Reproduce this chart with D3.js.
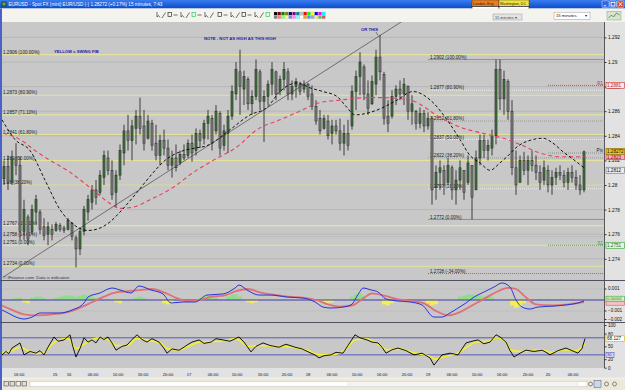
<!DOCTYPE html>
<html><head><meta charset="utf-8">
<script src="https://cdn.jsdelivr.net/npm/d3@7"></script>
<style>
html,body{margin:0;padding:0;background:#ece9d8;overflow:hidden}
svg{display:block;font-family:"Liberation Sans",Arial,sans-serif}
</style></head><body>
<svg id="c" width="625" height="390"></svg>
<script>
// ---------------- DATA ----------------
const open=[1.2805,1.2815,1.2802,1.2822,1.2816,1.2762,1.2774,1.2762,1.2778,1.2778,
1.2766,1.2760,1.2764,1.2763,1.2767,1.2765,1.2764,1.2769,1.2757,1.2748,
1.2762,1.2778,1.2786,1.2796,1.2794,1.2806,1.2822,1.2812,1.2794,1.2808,
1.2826,1.2844,1.2836,1.2846,1.2856,1.2848,1.2838,1.2850,1.2834,1.2824,
1.2836,1.2830,1.2816,1.2822,1.2818,1.2825,1.2824,1.2834,1.2828,1.2842,
1.2838,1.2850,1.2854,1.2844,1.2858,1.2832,1.2842,1.2856,1.2874,1.2892,
1.2878,1.2886,1.2866,1.2872,1.2892,1.2868,1.2872,1.2882,1.2892,1.2876,
1.2886,1.2892,1.2874,1.2880,1.2882,1.2878,1.2882,1.2874,1.2864,1.2854,
1.2846,1.2852,1.2842,1.2848,1.2844,1.2834,1.2842,1.2848,1.2876,1.2888,
1.2896,1.2874,1.2866,1.2882,1.2904,1.2890,1.2856,1.2856,1.2872,1.2878,
1.2874,1.2880,1.2860,1.2860,1.2850,1.2858,1.2848,1.2854,1.2798,1.2810,
1.2812,1.2802,1.2814,1.2796,1.2804,1.2812,1.2802,1.2816,1.2796,1.2822,
1.2836,1.2828,1.2830,1.2840,1.2894,1.2870,1.2884,1.2860,1.2814,1.2802,
1.2820,1.2812,1.2820,1.2816,1.2810,1.2804,1.2812,1.2800,1.2806,1.2810,
1.2808,1.2802,1.2810,1.2806,1.2800,1.2796];
const high=[1.2820,1.2824,1.2828,1.2834,1.2823,1.2788,1.2776,1.2784,1.2792,1.2780,
1.2773,1.2770,1.2768,1.2770,1.2769,1.2767,1.2773,1.2770,1.2759,1.2765,
1.2783,1.2792,1.2800,1.2804,1.2812,1.2828,1.2828,1.2820,1.2812,1.2833,
1.2849,1.2857,1.2853,1.2861,1.2871,1.2861,1.2857,1.2853,1.2849,1.2841,
1.2845,1.2837,1.2828,1.2833,1.2828,1.2833,1.2837,1.2841,1.2846,1.2845,
1.2853,1.2861,1.2857,1.2865,1.2860,1.2849,1.2861,1.2881,1.2900,1.2910,
1.2893,1.2888,1.2877,1.2902,1.2894,1.2877,1.2885,1.2900,1.2893,1.2889,
1.2900,1.2895,1.2885,1.2887,1.2884,1.2885,1.2883,1.2881,1.2869,1.2861,
1.2857,1.2857,1.2853,1.2853,1.2854,1.2849,1.2853,1.2881,1.2893,1.2908,
1.2898,1.2885,1.2889,1.2910,1.2922,1.2892,1.2869,1.2877,1.2881,1.2885,
1.2887,1.2881,1.2873,1.2861,1.2863,1.2861,1.2859,1.2856,1.2816,1.2820,
1.2816,1.2822,1.2816,1.2812,1.2820,1.2812,1.2824,1.2816,1.2828,1.2841,
1.2841,1.2837,1.2845,1.2902,1.2902,1.2893,1.2886,1.2869,1.2828,1.2824,
1.2827,1.2824,1.2828,1.2824,1.2816,1.2820,1.2816,1.2812,1.2814,1.2816,
1.2812,1.2814,1.2816,1.2812,1.2808,1.2828];
const low=[1.2800,1.2796,1.2800,1.2808,1.2755,1.2755,1.2751,1.2760,1.2768,1.2760,
1.2755,1.2751,1.2755,1.2762,1.2762,1.2761,1.2763,1.2755,1.2733,1.2743,
1.2759,1.2771,1.2780,1.2784,1.2792,1.2800,1.2808,1.2788,1.2782,1.2804,
1.2816,1.2828,1.2820,1.2833,1.2841,1.2828,1.2837,1.2828,1.2820,1.2816,
1.2824,1.2812,1.2806,1.2811,1.2816,1.2820,1.2822,1.2819,1.2824,1.2830,
1.2833,1.2837,1.2828,1.2841,1.2824,1.2828,1.2826,1.2853,1.2869,1.2857,
1.2865,1.2861,1.2857,1.2869,1.2861,1.2835,1.2865,1.2873,1.2869,1.2873,
1.2877,1.2869,1.2869,1.2871,1.2873,1.2875,1.2869,1.2861,1.2849,1.2841,
1.2845,1.2837,1.2833,1.2841,1.2828,1.2824,1.2828,1.2845,1.2861,1.2873,
1.2869,1.2857,1.2865,1.2873,1.2885,1.2849,1.2843,1.2854,1.2865,1.2869,
1.2865,1.2853,1.2849,1.2845,1.2846,1.2843,1.2845,1.2784,1.2788,1.2796,
1.2792,1.2800,1.2788,1.2784,1.2796,1.2788,1.2800,1.2772,1.2796,1.2816,
1.2822,1.2820,1.2824,1.2833,1.2861,1.2857,1.2853,1.2808,1.2792,1.2802,
1.2808,1.2800,1.2811,1.2804,1.2796,1.2800,1.2794,1.2792,1.2800,1.2804,
1.2798,1.2796,1.2802,1.2796,1.2792,1.2794];
const close=[1.2815,1.2802,1.2822,1.2816,1.2762,1.2780,1.2756,1.2780,1.2788,1.2764,
1.2759,1.2766,1.2760,1.2768,1.2764,1.2763,1.2771,1.2758,1.2748,1.2762,
1.2780,1.2788,1.2796,1.2790,1.2808,1.2824,1.2812,1.2792,1.2808,1.2828,
1.2844,1.2836,1.2848,1.2856,1.2846,1.2834,1.2852,1.2832,1.2824,1.2836,
1.2830,1.2816,1.2822,1.2814,1.2825,1.2822,1.2834,1.2826,1.2842,1.2836,
1.2850,1.2856,1.2834,1.2860,1.2830,1.2844,1.2856,1.2876,1.2894,1.2880,
1.2888,1.2866,1.2872,1.2894,1.2868,1.2872,1.2882,1.2894,1.2874,1.2886,
1.2894,1.2874,1.2880,1.2884,1.2876,1.2882,1.2872,1.2864,1.2852,1.2844,
1.2854,1.2840,1.2848,1.2844,1.2834,1.2842,1.2832,1.2876,1.2888,1.2900,
1.2874,1.2862,1.2884,1.2904,1.2892,1.2854,1.2850,1.2872,1.2878,1.2874,
1.2882,1.2860,1.2866,1.2850,1.2858,1.2848,1.2854,1.2796,1.2810,1.2814,
1.2800,1.2816,1.2796,1.2804,1.2814,1.2794,1.2818,1.2790,1.2822,1.2836,
1.2828,1.2832,1.2840,1.2894,1.2870,1.2886,1.2860,1.2814,1.2800,1.2820,
1.2812,1.2820,1.2816,1.2810,1.2802,1.2814,1.2800,1.2806,1.2810,1.2808,
1.2802,1.2810,1.2806,1.2800,1.2796,1.2827];

// moving averages [bar index, price]
const blackMA=[[-0.5,1.2853],[2.75,1.2837],[6.5,1.2828],[10.25,1.2804],[14,1.2780],[17.75,1.2767],[21,1.2763],[24,1.2765],[26.5,1.2770],[29,1.2778],[32.75,1.2792],[36.5,1.2807],[40.25,1.2820],[44,1.2827],[47.75,1.2830],[50.75,1.2832],[56.5,1.2845],[61.5,1.2857],[65.75,1.2863],[69,1.2876],[73.25,1.2883],[76.5,1.2879],[79.75,1.2876],[83.25,1.2872],[85.75,1.2863],[87.75,1.2857],[91.5,1.2859],[94.75,1.2863],[98.25,1.2869],[102.25,1.2876],[107.25,1.2867],[110.75,1.2853],[114,1.2837],[116.5,1.2824],[119,1.2818],[121.5,1.2812],[124,1.2818],[125.75,1.2823],[128.25,1.2831],[132.25,1.2837],[134.75,1.2838],[137.25,1.2834],[139.75,1.2827],[142.25,1.2821],[145,1.2814]];
const redMA=[[-0.25,1.2842],[4,1.2837],[7.75,1.2828],[11.5,1.2820],[15.75,1.2812],[22.25,1.2796],[26.5,1.2785],[29,1.2781],[32.25,1.2782],[36.5,1.2788],[42.25,1.2798],[47.25,1.2810],[52.25,1.2820],[58.25,1.2831],[63.25,1.2845],[69,1.2853],[73.25,1.2859],[79,1.2867],[84,1.2869],[90.75,1.2871],[94.75,1.2871],[101.5,1.2869],[109,1.2855],[114,1.2847],[119.75,1.2842],[125.75,1.2837],[129,1.2833],[134,1.2826],[139,1.2823],[145.5,1.2823]];
const trendLine=[[-0.25,1.2725],[99.5,1.2933]];

const priceTicks=[1.274,1.276,1.278,1.28,1.282,1.284,1.286,1.288,1.29,1.292];
const swingFibPrice=[1.2906,1.2873,1.2857,1.2841,1.2820,1.2800,1.2767,1.2758,1.2751,1.2734];
const swingFibLabel=["1.2906 (100.00%)","1.2873 (80.90%)","1.2857 (71.10%)","1.2841 (61.80%)","1.282 (50.00%)","1.28 (38.20%)","1.2767 (19.10%)","1.2758 (14.60%)","1.2751 (0.00%)","1.2734 (0.00%)"];
const rightFibPrice=[1.2902,1.2877,1.2852,1.2837,1.2822,1.2797,1.2772,1.2728];
const rightFibLabel=["1.2902 (100.00%)","1.2877 (80.90%)","1.2852 (61.80%)","1.2837 (50.00%)","1.2822 (38.20%)","1.2797 (19.10%)","1.2772 (0.00%)","1.2728 (-34.00%)"];
const rightFibStart=106;
const pivotNames=["R1","Piv","S1"];
const pivotValues=[1.2881,1.2826,1.2751];
const pivotStart=136;
const lastPrice=1.28272, redMALast=1.2823, blackMALast=1.2812;

const timeTickIdx=[3.75,12.75,16.25,22.25,28.5,34.75,41,46.25,52.25,58.25,64.75,70.75,76,82,88.25,94.5,100.75,106,112,118.25,124.5,131,136,142.25];
const timeTickLabel=["16:00","15","16","06:00","10:00","16:00","20:00","17","06:00","10:00","16:00","20:00","18","06:00","10:00","16:00","20:00","19","06:00","10:00","16:00","20:00","20","06:00"];

// MACD panel
const macdBlue=[[-0.5,-0.00091],[1,-0.00118],[3,-0.00155],[5,-0.00173],[7,-0.00155],[9,-0.00118],[12,-0.00118],[14,-0.00118],[17,-0.00091],[20,-0.00027],[21,0.00027],[24,0.00064],[27,0.00109],[29,0.00091],[31.75,0.00064],[33.75,0.00127],[36.75,0.00091],[39.75,0.00055],[41.75,-0.00027],[44.75,-0.00018],[47.75,-0.00018],[50.75,0.00045],[54.75,0.00055],[57.75,0.00109],[58.75,0.00136],[60.75,0.00091],[63.75,0.00045],[66.75,0.00045],[70.75,0.00027],[74.75,0.00018],[77.75,-0.00018],[79.75,-0.00064],[81.75,-0.00073],[84.75,-0.00064],[86.75,-0.00045],[88.75,0.00064],[89.75,0.00109],[91.75,0.00091],[93.5,0.00073],[95.5,0.00009],[98.5,-0.00009],[101.5,-0.00018],[104.5,-0.00045],[107.5,-0.00155],[109.5,-0.00155],[111.5,-0.00118],[113.5,-0.00073],[115.5,-0.00027],[117.5,0.00027],[119.5,0.00064],[122.5,0.00118],[124.5,0.00155],[126.5,0.00118],[128,0],[129.5,-0.00064],[131.5,-0.00082],[133.5,-0.00064],[137.5,-0.00055],[140.5,-0.00045],[143.5,-0.00027],[145,-0.00009]];
const macdRed=[[-0.5,-0.0005],[2,-0.0009],[5,-0.0013],[8,-0.0014],[12,-0.0013],[16,-0.0011],[19,-0.0007],[22,-0.0002],[25,0.0003],[28,0.0007],[31,0.0008],[34,0.0009],[37,0.0010],[40,0.0007],[43,0.0002],[46,-0.0001],[49,0.0000],[52,0.0003],[55,0.0004],[58,0.0008],[61,0.0010],[64,0.0007],[67,0.0005],[71,0.0003],[75,0.0002],[78,0.0000],[81,-0.0004],[84,-0.0006],[87,-0.0005],[90,0.0002],[92,0.0006],[95,0.0004],[98,0.0001],[102,-0.0001],[105,-0.0003],[108,-0.0010],[111,-0.0014],[114,-0.0011],[117,-0.0005],[120,0.0001],[123,0.0007],[126,0.0011],[128,0.0010],[130,0.0004],[133,-0.0004],[137,-0.0005],[141,-0.0004],[145,-0.0002]];
const macdHist=[[2,0.0001],[3,0.0002],[4,0.0002],[5,-0.0002],[6,-0.0003],[7,0.0002],[8,0.0003],[9,0.0003],[10,0.0002],[13,0.0002],[14,0.0003],[15,0.0004],[16,0.0004],[17,0.0004],[18,0.0003],[19,0.0004],[20,0.0005],[21,0.0004],[22,0.0003],[23,0.0002],[28,-0.0002],[29,-0.0003],[33,0.0002],[34,0.0003],[35,0.0002],[40,-0.0003],[41,-0.0004],[42,-0.0003],[49,0.0002],[50,0.0003],[51,0.0004],[52,0.0004],[53,0.0003],[56,0.0003],[57,0.0005],[58,0.0005],[59,0.0003],[61,-0.0002],[62,-0.0003],[63,-0.0002],[79,-0.0002],[80,-0.0003],[81,-0.0003],[82,-0.0002],[87,0.0003],[88,0.0005],[89,0.0006],[90,0.0004],[95,-0.0004],[96,-0.0005],[97,-0.0003],[106,-0.0003],[107,-0.0005],[108,-0.0004],[114,0.0003],[115,0.0004],[116,0.0005],[117,0.0005],[118,0.0004],[119,0.0004],[120,0.0003],[121,0.0004],[122,0.0003],[127,-0.0005],[128,-0.0007],[129,-0.0006],[130,-0.0003],[134,0.0001],[136,0.0001],[139,0.0001],[142,0.0001]];
const macdTicks=[0.001,-0.001,-0.002];

// Stochastic panel
const stochK=[[-0.5,30],[0.5,38],[1.2,33],[2,46],[3,52],[4,58],[5,30],[6.5,38],[8,34],[9,40],[10,30],[11,48],[12.5,72],[13.5,62],[15,65],[16.5,77],[17.2,50],[18,25],[19,45],[20,70],[21,60],[22,65],[23,58],[24,72],[25,66],[26,72],[27,58],[28,41],[29.5,50],[30.75,53],[32,66],[33.25,77],[34.5,66],[35.75,60],[37,68],[38.75,60],[39.8,48],[40.75,34],[42,44],[43.75,41],[45,48],[45.75,53],[47,60],[48.75,65],[50,57],[51.75,60],[53,68],[54.75,65],[56.5,62],[58.75,72],[60,60],[61.75,37],[63,50],[64.75,58],[66.5,52],[68.75,48],[70.5,55],[72.75,48],[74.5,44],[76.75,34],[77.7,30],[78.75,23],[80,28],[81.75,30],[83,36],[84.75,34],[86,52],[87.75,77],[89,70],[90.75,65],[92,60],[93.5,58],[94.5,48],[95.5,34],[97,42],[98.5,46],[100.5,40],[102.5,30],[104.5,34],[106.5,23],[107.5,6],[108.5,18],[109.5,30],[111.5,34],[113.5,30],[114.5,44],[115.5,58],[117,62],[118.5,65],[120,56],[121.5,60],[123,77],[124,72],[125.5,60],[126.5,40],[127.5,25],[129,34],[130.5,41],[132.5,38],[134.5,41],[135.5,36],[136.5,30],[138.5,40],[140.5,46],[142,40],[143.5,34],[144.5,45],[145.25,68.1]];
const stochD=[[-0.5,35],[2,40],[4,48],[6,40],[8,33],[10,35],[12,55],[14,66],[16,68],[18,45],[20,55],[22,66],[24,70],[26,66],[28,52],[31,52],[33,68],[36,64],[39,58],[41,44],[44,42],[46,50],[49,60],[52,61],[55,63],[58,68],[61,50],[64,52],[68,50],[72,48],[76,40],[79,30],[82,30],[85,40],[88,66],[91,67],[93,58],[96,42],[99,44],[102,36],[106,28],[108,20],[110,26],[113,32],[116,50],[118,60],[121,62],[123,70],[125,64],[127,40],[130,38],[134,42],[137,36],[140,42],[143,40],[145.25,56]];
const stochLevels=[70,30];
const stochTicks=[100,80,50,20,0];
const stochLast=68.127;

// ---------------- DRAW ----------------
const svg=d3.select("#c");
const plotL=2, plotR=604, mainT=22, mainB=280, macdT=281, macdB=322, stT=323, stB=368;
const x=d3.scaleLinear().domain([-0.5,150]).range([plotL,plotR]);
const y=d3.scaleLinear().domain([1.274,1.292]).range([258.8,37.4]);
const ym=d3.scaleLinear().domain([0,0.001]).range([300,289]);
const ys=d3.scaleLinear().domain([0,100]).range([367.7,325]);

const defs=svg.append("defs");
const grad=defs.append("linearGradient").attr("id","tb").attr("x1",0).attr("y1",0).attr("x2",0).attr("y2",1);
grad.append("stop").attr("offset",0).attr("stop-color","#3a7cf0");
grad.append("stop").attr("offset",1).attr("stop-color","#0a4cc8");
function clip(id,y0,y1){defs.append("clipPath").attr("id",id).append("rect").attr("x",plotL).attr("y",y0).attr("width",plotR-plotL).attr("height",y1-y0);}
clip("cm",mainT,mainB);clip("cmacd",macdT,macdB);clip("cst",stT,stB);

// window background
svg.append("rect").attr("width",625).attr("height",390).attr("fill","#ece9d8");
// title bar
svg.append("rect").attr("width",625).attr("height",8.5).attr("fill","url(#tb)");
svg.append("rect").attr("x",1.5).attr("y",1.5).attr("width",5).attr("height",5).attr("fill","#3a3a3a");
svg.append("rect").attr("x",2.5).attr("y",2.5).attr("width",3).attr("height",3).attr("fill","#40c040");
svg.append("text").attr("x",8.5).attr("y",6.4).attr("fill","#fff").attr("font-size",4.6)
  .text("EURUSD - Spot FX (mini) EUR/USD (-)    1.28272 (+0.17%)    15 minutes, 7:43");
// city clocks
const clocks=[{x:472,w:27,c:"#ec7d1c",t:"London, Eng",tm:"Fri  02:42:03"},{x:499,w:30,c:"#f2e23a",t:"Washington, DC",tm:"Fri    02:42"}];
clocks.forEach(c=>{
  svg.append("rect").attr("x",c.x).attr("y",0).attr("width",c.w).attr("height",6.6).attr("fill",c.c).attr("stroke","#333").attr("stroke-width",0.4);
  svg.append("text").attr("x",c.x+1).attr("y",5).attr("font-size",3.6).attr("fill","#222").text(c.t);
  svg.append("rect").attr("x",c.x).attr("y",6.6).attr("width",c.w).attr("height",7).attr("fill","#fff").attr("stroke","#222").attr("stroke-width",0.6);
  svg.append("text").attr("x",c.x+1.2).attr("y",12).attr("font-size",3.8).attr("fill","#111").text(c.tm);
});
// window buttons
[[602,"#3468e0"],[609.5,"#3468e0"],[617,"#d8482a"]].forEach(([bx,col],k)=>{
  svg.append("rect").attr("x",bx).attr("y",0.8).attr("width",7).attr("height",6.8).attr("rx",1).attr("fill",col).attr("stroke","#fff").attr("stroke-width",0.4);
  const gg=svg.append("g").attr("stroke","#fff").attr("stroke-width",0.9);
  if(k==0) gg.append("line").attr("x1",bx+1.8).attr("x2",bx+4.2).attr("y1",5.8).attr("y2",5.8);
  if(k==1) gg.append("rect").attr("x",bx+1.6).attr("y",2.4).attr("width",3.8).attr("height",3.6).attr("fill","none");
  if(k==2){gg.append("line").attr("x1",bx+1.8).attr("x2",bx+5.2).attr("y1",2.2).attr("y2",6.2);gg.append("line").attr("x1",bx+5.2).attr("x2",bx+1.8).attr("y1",2.2).attr("y2",6.2);}
});
// toolbar
svg.append("rect").attr("x",0).attr("y",8.5).attr("width",625).attr("height",13.5).attr("fill","#f4f3ee");
const tg=svg.append("g").attr("stroke","#333").attr("stroke-width",0.7).attr("fill","none");
[157,163,169,175,181,187,193,199,205,211,219,225,231,237,243,249,255,261,267].forEach((ix,k)=>{
  if(k%4==0) tg.append("path").attr("d",`M${ix},12 l0,5 l1.5,-1.5 l1.5,2`);
  else if(k%4==1) tg.append("line").attr("x1",ix-1).attr("y1",18).attr("x2",ix+2.5).attr("y2",12.5);
  else if(k%4==2) tg.append("rect").attr("x",ix-1).attr("y",12.5).attr("width",3.5).attr("height",4).attr("stroke",k%3?"#333":"#2c6");
  else tg.append("line").attr("x1",ix-1.5).attr("y1",15).attr("x2",ix+2.5).attr("y2",15);
});
const pal=["#000","#800000","#008000","#808000","#000080","#800080","#008080","#c0c0c0","#ff0000","#00ff00","#ffff00","#0000ff","#ff00ff","#00ffff",
 "#808080","#ff8080","#80ff80","#ffff80","#8080ff","#ff80ff","#80ffff","#fff","#f0a030","#40a0f0","#a0a0f0","#f0f060","#60c060","#c06060"];
pal.forEach((c,k)=>{const r=Math.floor(k/14),cc=k%14;
  svg.append("rect").attr("x",274+cc*3.7).attr("y",12+r*3.6).attr("width",3.2).attr("height",3.1).attr("fill",c).attr("stroke","#999").attr("stroke-width",0.2);});
svg.append("rect").attr("x",493).attr("y",14).attr("width",29).attr("height",6).attr("fill","#e4e4e4").attr("stroke","#888").attr("stroke-width",0.4);
svg.append("text").attr("x",495).attr("y",18.6).attr("font-size",3.8).attr("fill","#444").text("15 minutes ▾");
svg.append("rect").attr("x",554).attr("y",12.2).attr("width",36).attr("height",7).attr("fill","#fff").attr("stroke","#888").attr("stroke-width",0.4);
svg.append("text").attr("x",556).attr("y",17.3).attr("font-size",4.2).attr("fill","#111").text("15 minutes");
svg.append("text").attr("x",584.5).attr("y",17.3).attr("font-size",3.6).attr("fill","#111").text("▾");
svg.append("rect").attr("x",607).attr("y",11.5).attr("width",14).attr("height",8.5).attr("fill","#d8e4d0").attr("stroke","#7a8").attr("stroke-width",0.5);
svg.append("path").attr("d","M608.5,18 l3,-3 l2,2 l3,-4 l3,2").attr("stroke","#2a7a2a").attr("fill","none").attr("stroke-width",0.7);

// panels background
svg.append("rect").attr("x",0).attr("y",mainT).attr("width",625).attr("height",stB-mainT).attr("fill","#e2e2e2");
[[mainT,mainB],[macdT,macdB],[stT,stB]].forEach(([a,b])=>svg.append("rect").attr("x",plotL).attr("y",a).attr("width",plotR-plotL).attr("height",b-a).attr("fill","#c8c8c8"));
svg.append("rect").attr("x",0).attr("y",stB).attr("width",625).attr("height",10).attr("fill","#e2e2e2");
// left window border
svg.append("rect").attr("x",0).attr("y",8.5).attr("width",2).attr("height",381.5).attr("fill","#4a62c8");

// ---- main panel ----
const gm=svg.append("g").attr("clip-path","url(#cm)");
gm.selectAll(".grid").data(priceTicks).join("line").attr("x1",plotL).attr("x2",plotR)
  .attr("y1",d=>y(d)).attr("y2",d=>y(d)).attr("stroke","#b2b2b2").attr("stroke-width",0.8);
// swing fib (yellow)
gm.selectAll(".sf").data(swingFibPrice).join("line").attr("x1",plotL).attr("x2",plotR)
  .attr("y1",d=>y(d)).attr("y2",d=>y(d))
  .attr("stroke",(d,i)=>i==7?"#a8a8a8":"#e4e49c").attr("stroke-width",(d,i)=>i==7?0.7:1.1)
  .attr("stroke-dasharray",(d,i)=>i==7?"1,1":null);
gm.selectAll(".sfl").data(swingFibPrice).join("text").attr("x",3).attr("y",d=>y(d)-0.9)
  .attr("font-size",4.6).attr("fill","#222").text((d,i)=>swingFibLabel[i]);
// right fib
gm.selectAll(".rf").data(rightFibPrice).join("line").attr("x1",x(rightFibStart)).attr("x2",plotR)
  .attr("y1",d=>y(d)).attr("y2",d=>y(d))
  .attr("stroke",(d,i)=>i==7?"#d04040":(i==0||i==6)?"#8a8a8a":(i%2?"#f4f4f4":"#909090"))
  .attr("stroke-width",(d,i)=>(i==0||i==6)?0.9:0.8)
  .attr("stroke-dasharray",(d,i)=>(i==0||i==6)?null:"1,1");
gm.selectAll(".rfl").data(rightFibPrice).join("text").attr("x",x(rightFibStart)+2).attr("y",d=>y(d)-0.8)
  .attr("font-size",4.6).attr("fill","#222").text((d,i)=>rightFibLabel[i]);
// pivots
const pivCol=["#d03030","#808080","#30a030"];
gm.selectAll(".pv").data(pivotValues).join("line").attr("x1",x(pivotStart)).attr("x2",plotR)
  .attr("y1",d=>y(d)).attr("y2",d=>y(d)).attr("stroke",(d,i)=>pivCol[i]).attr("stroke-width",0.8).attr("stroke-dasharray","1,1");
gm.selectAll(".pvl").data(pivotValues).join("text").attr("x",plotR-1).attr("y",d=>y(d)-0.6).attr("text-anchor","end")
  .attr("font-size",4.6).attr("fill",(d,i)=>i==1?"#222":pivCol[i]).text((d,i)=>pivotNames[i]);
// candles
const bars=d3.range(open.length).map(i=>({i,o:open[i],h:high[i],l:low[i],c:close[i]}));
gm.selectAll(".wk").data(bars).join("line").attr("x1",d=>x(d.i)).attr("x2",d=>x(d.i))
  .attr("y1",d=>y(d.h)).attr("y2",d=>y(d.l)).attr("stroke","#1a1a1a").attr("stroke-width",0.8);
gm.selectAll(".bd").data(bars).join("rect").attr("x",d=>x(d.i)-1.05).attr("width",2.1)
  .attr("y",d=>y(Math.max(d.o,d.c))).attr("height",d=>Math.max(0.8,Math.abs(y(d.o)-y(d.c))))
  .attr("fill",d=>d.c>=d.o?"#42703f":"#7c7c7c").attr("stroke","#1a1a1a").attr("stroke-width",0.45);
// MAs
const ln=d3.line().x(d=>x(d[0])).y(d=>y(d[1])).curve(d3.curveMonotoneX);
gm.append("path").attr("d",ln(redMA)).attr("fill","none").attr("stroke","#e8405c").attr("stroke-width",1.1).attr("stroke-dasharray","4,3");
gm.append("path").attr("d",ln(blackMA)).attr("fill","none").attr("stroke","#000").attr("stroke-width",0.9).attr("stroke-dasharray","3,2.2");
gm.append("path").attr("d",d3.line().x(d=>x(d[0])).y(d=>y(d[1]))(trendLine)).attr("stroke","#333").attr("stroke-width",0.6).attr("fill","none");
// annotations
const blue="#1c1ca8";
gm.append("text").attr("x",54).attr("y",52.5).attr("font-size",4.2).attr("font-weight","bold").attr("fill",blue).text("YELLOW = SWING FIB");
gm.append("text").attr("x",204).attr("y",40).attr("font-size",4.2).attr("font-weight","bold").attr("fill",blue).text("NOTE - NOT AS HIGH AS THIS HIGH");
gm.append("text").attr("x",361).attr("y",30.8).attr("font-size",4.2).attr("font-weight","bold").attr("fill",blue).text("OR THIS");
gm.append("line").attr("x1",376).attr("y1",32).attr("x2",378).attr("y2",35.5).attr("stroke","#222").attr("stroke-width",0.5);
gm.append("text").attr("x",3).attr("y",278.5).attr("font-size",4.4).attr("fill","#333").text("© IFinance.com. Data is indicative");

// ---- right price axis ----
svg.append("line").attr("x1",plotR+0.5).attr("x2",plotR+0.5).attr("y1",mainT).attr("y2",stB).attr("stroke","#333").attr("stroke-width",0.8);
const ay=svg.append("g").attr("transform",`translate(${plotR+0.5},0)`)
  .call(d3.axisRight(y).tickValues(priceTicks).tickFormat(d3.format("~g")).tickSize(2).tickPadding(1.5));
ay.select(".domain").remove();
ay.selectAll("text").attr("font-size",4.8).attr("fill","#111").attr("font-family","Liberation Sans, Arial");
ay.selectAll("line").attr("stroke","#333");
function box(val,scale,txt,fill,stroke,tcol){
  const yy=scale(val);
  svg.append("rect").attr("x",606).attr("y",yy-3).attr("width",18.5).attr("height",6).attr("fill",fill).attr("stroke",stroke).attr("stroke-width",0.6);
  svg.append("text").attr("x",607).attr("y",yy+1.8).attr("font-size",4.6).attr("fill",tcol).text(txt);
}
box(pivotValues[0],y,"1.2881","#fbe8e8","#d03030","#c02020");
box(blackMALast,y,"1.2812","#ececec","#707070","#111");
box(redMALast,y,"1.2823","#f3b0b8","#d03040","#900");
box(lastPrice,y,"1.28272","#f0c020","#806000","#111");
box(pivotValues[2],y,"1.2751","#e6f4e6","#30a030","#207020");

// ---- panel separators ----
[mainB+0.5,macdB+0.5].forEach(v=>svg.append("line").attr("x1",0).attr("x2",625).attr("y1",v).attr("y2",v).attr("stroke","#505060").attr("stroke-width",1));

// ---- MACD ----
const gmc=svg.append("g").attr("clip-path","url(#cmacd)");
gmc.selectAll(".mg").data([0.001,-0.001]).join("line").attr("x1",plotL).attr("x2",plotR).attr("y1",d=>ym(d)).attr("y2",d=>ym(d)).attr("stroke","#b8b8b8").attr("stroke-width",0.6);
gmc.selectAll(".hb").data(macdHist).join("rect").attr("x",d=>x(d[0])-2).attr("width",4)
  .attr("y",d=>Math.min(ym(0),ym(d[1]))).attr("height",d=>Math.abs(ym(d[1])-ym(0)))
  .attr("fill",d=>d[1]>=0?"#90dc88":"#f2ee5a");
gmc.append("line").attr("x1",plotL).attr("x2",plotR).attr("y1",ym(0)).attr("y2",ym(0)).attr("stroke","#2a2aa0").attr("stroke-width",0.9);
const lm=d3.line().x(d=>x(d[0])).y(d=>ym(d[1])).curve(d3.curveMonotoneX);
gmc.append("path").attr("d",lm(macdRed)).attr("fill","none").attr("stroke","#e07078").attr("stroke-width",1.8);
gmc.append("path").attr("d",lm(macdBlue)).attr("fill","none").attr("stroke","#2a36d8").attr("stroke-width",1);
const am=svg.append("g").attr("transform",`translate(${plotR+0.5},0)`)
  .call(d3.axisRight(ym).tickValues(macdTicks).tickFormat(d3.format("~g")).tickSize(2).tickPadding(1.5));
am.select(".domain").remove();
am.selectAll(".tick").attr("transform",d=>`translate(0,${Math.min(ym(d),319.5)})`);
am.selectAll("text").attr("font-size",4.6).attr("fill","#111").attr("font-family","Liberation Sans, Arial");
am.selectAll("line").attr("stroke","#333");
svg.append("rect").attr("x",606).attr("y",296.2).attr("width",18.5).attr("height",5).attr("fill","#d8f4d0").attr("stroke","#40a040").attr("stroke-width",0.6);
svg.append("text").attr("x",607).attr("y",300.2).attr("font-size",4.2).attr("fill","#207020").text("0.00001");
svg.append("rect").attr("x",606).attr("y",301.2).attr("width",18.5).attr("height",4).attr("fill","#f4c0c4").attr("stroke","#d04050").attr("stroke-width",0.5);

// ---- Stochastic ----
const gs=svg.append("g").attr("clip-path","url(#cst)");
gs.selectAll(".sl").data(stochLevels).join("line").attr("x1",plotL).attr("x2",plotR).attr("y1",d=>ys(d)).attr("y2",d=>ys(d)).attr("stroke","#3a3ac0").attr("stroke-width",0.8);
const lsd=d3.line().x(d=>x(d[0])).y(d=>ys(d[1])).curve(d3.curveMonotoneX);
gs.append("path").attr("d",lsd(stochD)).attr("fill","none").attr("stroke","#f4f02a").attr("stroke-width",1.6);
gs.append("path").attr("d",d3.line().x(d=>x(d[0])).y(d=>ys(d[1]))(stochK)).attr("fill","none").attr("stroke","#000").attr("stroke-width",0.9);
const as=svg.append("g").attr("transform",`translate(${plotR+0.5},0)`)
  .call(d3.axisRight(ys).tickValues(stochTicks).tickFormat(d3.format("d")).tickSize(2).tickPadding(1.5));
as.select(".domain").remove();
as.selectAll("text").attr("font-size",4.6).attr("fill","#111").attr("font-family","Liberation Sans, Arial");
as.selectAll("line").attr("stroke","#333");
svg.append("rect").attr("x",606).attr("y",ys(30)-2.5).attr("width",8).attr("height",5).attr("fill","#d8d8f4").attr("stroke","#3a3ac0").attr("stroke-width",0.5);
svg.append("text").attr("x",607).attr("y",ys(30)+1.6).attr("font-size",4.2).attr("fill","#3a3ac0").text("30");
svg.append("rect").attr("x",606).attr("y",ys(stochLast)-2.8).attr("width",18.5).attr("height",5.6).attr("fill","#fff").attr("stroke","#c8b000").attr("stroke-width",0.6);
svg.append("text").attr("x",607).attr("y",ys(stochLast)+1.7).attr("font-size",4.6).attr("fill","#111").text(d3.format(".3f")(stochLast));

// ---- time axis ----
svg.selectAll(".tt").data(timeTickIdx).join("text").attr("x",d=>x(d)).attr("y",375.5).attr("text-anchor","middle")
  .attr("font-size",4.2).attr("fill","#111").text((d,i)=>timeTickLabel[i]);

// ---- bottom bar ----
svg.append("rect").attr("x",2).attr("y",378).attr("width",623).attr("height",12).attr("fill","#ece9d8");
svg.append("line").attr("x1",2).attr("x2",625).attr("y1",378.2).attr("y2",378.2).attr("stroke","#fff").attr("stroke-width",0.6);
[4,10,16,22].forEach((bx,k)=>{
  svg.append("rect").attr("x",bx).attr("y",381.5).attr("width",4.5).attr("height",4.5).attr("fill",k==2?"#eee":"#ddd").attr("stroke","#333").attr("stroke-width",0.5);
});
svg.append("rect").attr("x",30).attr("y",381.2).attr("width",557).attr("height",5.6).attr("fill","#fff").attr("stroke","#aaa").attr("stroke-width",0.4);
svg.append("rect").attr("x",348).attr("y",381.6).attr("width",230).attr("height",4.8).attr("fill","#f4f4f4").attr("stroke","#ccc").attr("stroke-width",0.3);
svg.append("rect").attr("x",594).attr("y",380.5).attr("width",7).attr("height",7).attr("fill","#c8d8f0").attr("stroke","#557").attr("stroke-width",0.5);
[588,604,612].forEach(bx=>svg.append("circle").attr("cx",bx+2.5).attr("cy",384).attr("r",2).attr("fill","none").attr("stroke","#444").attr("stroke-width",0.6));
</script>
</body></html>
